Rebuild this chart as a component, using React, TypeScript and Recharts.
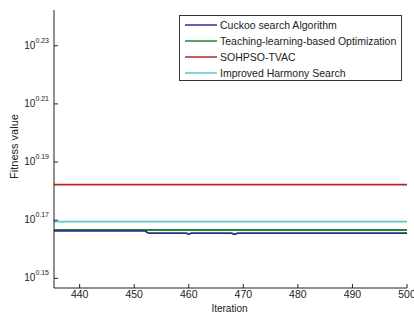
import { LineChart, Line, XAxis, YAxis, Legend } from "recharts";

// iteration / fitness pairs (log y axis)
const CS_ITER = [435, 452, 452.6, 459.6, 460, 460.4, 467.8, 468.4, 469, 500];
const CS_FIT = [1.4666, 1.4666, 1.464, 1.464, 1.4628, 1.464, 1.464, 1.4628, 1.464, 1.464];
const TLBO_ITER = [435, 500];
const TLBO_FIT = [1.4677, 1.4677];
const SOHPSO_ITER = [435, 500];
const SOHPSO_FIT = [1.5213, 1.5213];
const IHS_ITER = [435, 500];
const IHS_FIT = [1.4775, 1.4775];

const X_TICKS = [440, 450, 460, 470, 480, 490, 500];
const Y_TICK_EXP = ["0.15", "0.17", "0.19", "0.21", "0.23"];
const Y_TICKS = Y_TICK_EXP.map((e) => Math.pow(10, parseFloat(e)));

const SERIES = [
  { name: "Cuckoo search Algorithm", color: "#2b2f8c", iter: CS_ITER, fit: CS_FIT },
  { name: "Teaching-learning-based Optimization", color: "#23852f", iter: TLBO_ITER, fit: TLBO_FIT },
  { name: "SOHPSO-TVAC", color: "#b3262a", iter: SOHPSO_ITER, fit: SOHPSO_FIT },
  { name: "Improved Harmony Search", color: "#5cc6cb", iter: IHS_ITER, fit: IHS_FIT },
];

const FONT = "'Liberation Sans', Arial, sans-serif";
const INK = "#222";
const TICK = 4;

function BottomTick({ x, y, payload }: any) {
  return (
    <g>
      <line x1={x} y1={y} x2={x} y2={y - TICK} stroke={INK} />
      <text x={x} y={y + 10} textAnchor="middle" fontSize={10.5} fill={INK} fontFamily={FONT}>
        {payload.value}
      </text>
    </g>
  );
}

function TopTick({ x, y }: any) {
  return <line x1={x} y1={y} x2={x} y2={y + TICK} stroke={INK} />;
}

function LeftTick({ x, y, payload }: any) {
  const exp = Math.log10(payload.value).toFixed(2);
  return (
    <g>
      <line x1={x} y1={y} x2={x + TICK} y2={y} stroke={INK} />
      <text x={x - 5} y={y + 3} textAnchor="end" fill={INK} fontFamily={FONT} fontSize={10}>
        <tspan>10</tspan>
        <tspan dy={-6} fontSize={7}>
          {exp}
        </tspan>
      </text>
    </g>
  );
}

function RightTick({ x, y }: any) {
  return <line x1={x} y1={y} x2={x - TICK} y2={y} stroke={INK} />;
}

function XLabel({ viewBox }: any) {
  return (
    <text
      x={viewBox.x + viewBox.width / 2 - 1}
      y={viewBox.y + 24}
      textAnchor="middle"
      fontSize={10}
      fill={INK}
      fontFamily={FONT}
    >
      Iteration
    </text>
  );
}

function YLabel({ viewBox }: any) {
  const cx = viewBox.x + 14;
  const cy = viewBox.y + viewBox.height / 2 - 2.5;
  return (
    <text
      x={cx}
      y={cy}
      transform={`rotate(-90, ${cx}, ${cy})`}
      textAnchor="middle"
      dominantBaseline="central"
      fontSize={11}
      fill={INK}
      fontFamily={FONT}
    >
      Fitness value
    </text>
  );
}

function LegendBox() {
  return (
    <div
      style={{
        boxSizing: "border-box",
        width: 223,
        height: 66,
        border: "1px solid #333",
        background: "#fff",
        paddingTop: 1,
        fontFamily: FONT,
        fontSize: 10.5,
        color: INK,
      }}
    >
      {SERIES.map((s) => (
        <div key={s.name} style={{ height: 16, display: "flex", alignItems: "center" }}>
          <svg width={38} height={16} style={{ flex: "none" }}>
            <line x1={5} y1={8} x2={37} y2={8} stroke={s.color} strokeWidth={1.5} />
          </svg>
          <span style={{ marginLeft: 2, whiteSpace: "nowrap" }}>{s.name}</span>
        </div>
      ))}
    </div>
  );
}

export default function App() {
  return (
    <div style={{ position: "absolute", left: 0, top: 0, width: 414, height: 315, background: "#fff" }}>
      <LineChart width={414} height={315} margin={{ top: 10, right: 7, bottom: 0, left: 0 }}>
        <XAxis
          xAxisId="b"
          type="number"
          dataKey="x"
          domain={[435.3, 500]}
          ticks={X_TICKS}
          allowDataOverflow
          height={27}
          tickSize={0}
          tickMargin={0}
          tickLine={false}
          axisLine={{ stroke: INK }}
          tick={<BottomTick />}
          interval={0}
          label={<XLabel />}
        />
        <XAxis
          xAxisId="t"
          orientation="top"
          type="number"
          dataKey="x"
          domain={[435.3, 500]}
          ticks={X_TICKS}
          allowDataOverflow
          height={0}
          tickSize={0}
          tickMargin={0}
          tickLine={false}
          axisLine={{ stroke: INK }}
          tick={<TopTick />}
          interval={0}
        />
        <YAxis
          yAxisId="l"
          scale="log"
          type="number"
          domain={[1.4018, 1.747]}
          ticks={Y_TICKS}
          allowDataOverflow
          width={54}
          tickSize={0}
          tickMargin={0}
          tickLine={false}
          axisLine={{ stroke: INK }}
          tick={<LeftTick />}
          interval={0}
          label={<YLabel />}
        />
        <YAxis
          yAxisId="r"
          orientation="right"
          scale="log"
          type="number"
          domain={[1.4018, 1.747]}
          ticks={Y_TICKS}
          allowDataOverflow
          width={0}
          tickSize={0}
          tickMargin={0}
          tickLine={false}
          axisLine={{ stroke: INK }}
          tick={<RightTick />}
          interval={0}
        />
        <Legend
          layout="vertical"
          align="center"
          verticalAlign="middle"
          content={<LegendBox />}
          wrapperStyle={{ left: 179, top: 15, width: 223, height: 66 }}
        />
        {[...SERIES].reverse().map((s) => (
          <Line
            key={s.name}
            xAxisId="b"
            yAxisId="l"
            name={s.name}
            data={s.iter.map((x, i) => ({ x, y: s.fit[i] }))}
            dataKey="y"
            type="linear"
            stroke={s.color}
            strokeWidth={1.8}
            dot={false}
            isAnimationActive={false}
          />
        ))}
      </LineChart>
    </div>
  );
}
